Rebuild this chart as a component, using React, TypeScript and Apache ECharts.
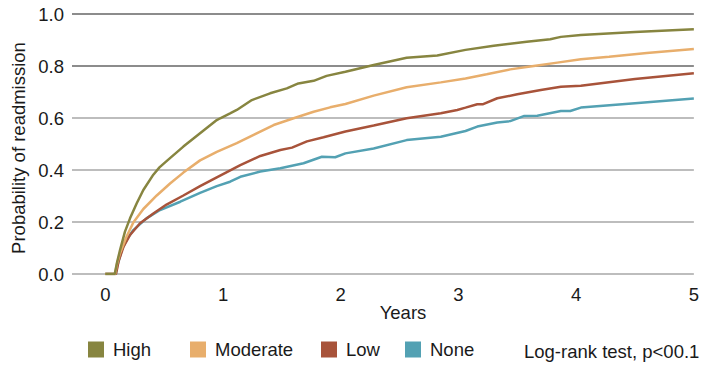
import React, { useEffect, useRef } from "react";
import * as echarts from "echarts";

const FONT = "'Liberation Sans', Arial, sans-serif";
const FS = 18.5;

const SERIES_NAMES = ["High", "Moderate", "Low", "None"];
const SERIES_COLORS = ["#878540", "#e8ae6c", "#a8533a", "#53a1b3"];
const X_TICKS = [0, 1, 2, 3, 4, 5];
const NOTE = "Log-rank test, p<00.1";

const HIGH: [number, number][] = [
  [0, 0], [0.07, 0], [0.08, 0], [0.1, 0.045], [0.125, 0.092], [0.167, 0.163], [0.21, 0.214],
  [0.267, 0.272], [0.323, 0.323], [0.408, 0.382], [0.46, 0.41], [0.53, 0.438], [0.663, 0.49],
  [0.805, 0.541], [0.947, 0.592], [0.976, 0.599], [1.06, 0.618], [1.117, 0.631], [1.245, 0.669],
  [1.4, 0.695], [1.542, 0.714], [1.64, 0.733], [1.77, 0.743], [1.88, 0.762], [2.04, 0.778],
  [2.28, 0.804], [2.56, 0.832], [2.82, 0.84], [3.06, 0.862], [3.3, 0.878], [3.58, 0.893],
  [3.78, 0.903], [3.87, 0.912], [4.04, 0.919], [4.5, 0.931], [5, 0.941],
];

const MODERATE: [number, number][] = [
  [0, 0], [0.07, 0], [0.083, 0], [0.1, 0.04], [0.125, 0.08], [0.18, 0.143], [0.238, 0.198],
  [0.323, 0.25], [0.437, 0.302], [0.55, 0.348], [0.663, 0.39], [0.805, 0.437], [0.947, 0.47],
  [1.117, 0.503], [1.26, 0.535], [1.43, 0.573], [1.6, 0.599], [1.77, 0.624], [1.91, 0.641],
  [2.04, 0.654], [2.28, 0.686], [2.56, 0.718], [2.85, 0.737], [3.06, 0.752], [3.24, 0.768],
  [3.44, 0.787], [3.64, 0.8], [3.84, 0.813], [4.04, 0.826], [4.28, 0.836], [4.6, 0.85], [5, 0.865],
];

const LOW: [number, number][] = [
  [0, 0], [0.07, 0], [0.09, 0], [0.1, 0.02], [0.113, 0.05], [0.155, 0.105], [0.21, 0.15],
  [0.295, 0.195], [0.408, 0.233], [0.52, 0.267], [0.663, 0.302], [0.805, 0.338], [0.947, 0.372],
  [1.147, 0.419], [1.317, 0.454], [1.487, 0.477], [1.586, 0.486], [1.713, 0.51], [1.854, 0.526],
  [2.04, 0.548], [2.28, 0.571], [2.56, 0.599], [2.85, 0.618], [2.99, 0.631], [3.06, 0.64],
  [3.16, 0.653], [3.21, 0.653], [3.33, 0.676], [3.5, 0.691], [3.7, 0.708], [3.87, 0.72],
  [4.04, 0.724], [4.5, 0.75], [5, 0.772],
];

const NONE: [number, number][] = [
  [0, 0], [0.07, 0], [0.09, 0], [0.1, 0.028], [0.14, 0.092], [0.18, 0.131], [0.238, 0.169],
  [0.35, 0.214], [0.465, 0.246], [0.637, 0.278], [0.805, 0.312], [0.947, 0.338], [1.06, 0.355],
  [1.147, 0.374], [1.317, 0.394], [1.487, 0.407], [1.684, 0.426], [1.84, 0.451], [1.953, 0.449],
  [2.04, 0.464], [2.28, 0.483], [2.56, 0.515], [2.85, 0.528], [3.06, 0.55], [3.16, 0.567],
  [3.33, 0.583], [3.44, 0.588], [3.56, 0.608], [3.67, 0.609], [3.87, 0.627], [3.95, 0.627],
  [4.04, 0.64], [4.5, 0.657], [5, 0.675],
];

const SERIES_DATA = [HIGH, MODERATE, LOW, NONE];
const LEGEND_LEFT = [88, 190, 321, 405];

export default function App() {
  const ref = useRef<HTMLDivElement>(null);

  useEffect(() => {
    if (!ref.current) return;
    const chart = echarts.init(ref.current, null, { renderer: "svg" });

    const series = SERIES_NAMES.map((name, i) => ({
      name,
      type: "line",
      data: SERIES_DATA[i],
      showSymbol: false,
      symbol: "none",
      color: SERIES_COLORS[i],
      lineStyle: { width: 2.5, color: SERIES_COLORS[i] },
      itemStyle: { color: SERIES_COLORS[i] },
      z: 10 - i,
    })).reverse();

    const legends = SERIES_NAMES.map((name, i) => ({
      data: [name],
      left: LEGEND_LEFT[i],
      top: 340,
      padding: 0,
      icon: "rect",
      itemWidth: 16,
      itemHeight: 16,
      selectedMode: false,
      textStyle: { fontSize: FS, color: "#1a1a1a", fontFamily: FONT, padding: [0, 0, 0, 4] },
    }));

    chart.setOption({
      animation: false,
      backgroundColor: "#ffffff",
      textStyle: { fontFamily: FONT },
      grid: { left: 72, right: 8, top: 14, bottom: 92, containLabel: false },
      legend: legends,
      xAxis: {
        type: "value",
        min: -0.283,
        max: 5,
        axisLine: { show: false },
        axisTick: { show: false },
        splitLine: { show: false },
        axisLabel: {
          customValues: X_TICKS,
          fontSize: FS,
          color: "#1a1a1a",
          fontFamily: FONT,
          margin: 11,
          showMinLabel: true,
          showMaxLabel: true,
        },
      },
      yAxis: {
        type: "value",
        min: 0,
        max: 1,
        interval: 0.2,
        axisLine: { show: false },
        axisTick: { show: false },
        axisLabel: {
          fontSize: FS,
          color: "#1a1a1a",
          fontFamily: FONT,
          margin: 8,
          formatter: (v: number) => v.toFixed(1),
        },
        splitLine: {
          show: true,
          lineStyle: {
            width: 2,
            color: ["#bdbdbd", "#bdbdbd", "#bdbdbd", "#bdbdbd", "#8c8c8c", "#8c8c8c"],
          },
        },
      },
      graphic: [
        {
          type: "text",
          x: 18,
          y: 148,
          rotation: Math.PI / 2,
          style: {
            text: "Probability of readmission",
            fontSize: FS,
            fontFamily: FONT,
            fill: "#1a1a1a",
            align: "center",
            verticalAlign: "middle",
          },
        },
        {
          type: "text",
          x: 403,
          y: 312,
          style: {
            text: "Years",
            fontSize: FS,
            fontFamily: FONT,
            fill: "#1a1a1a",
            align: "center",
            verticalAlign: "middle",
          },
        },
        {
          type: "text",
          x: 524,
          y: 351,
          style: {
            text: NOTE,
            fontSize: FS,
            fontFamily: FONT,
            fill: "#1a1a1a",
            align: "left",
            verticalAlign: "middle",
          },
        },
      ],
      series,
    });

    return () => chart.dispose();
  }, []);

  return (
    <div
      ref={ref}
      style={{ position: "fixed", left: 0, top: 0, width: 702, height: 366 }}
    />
  );
}
